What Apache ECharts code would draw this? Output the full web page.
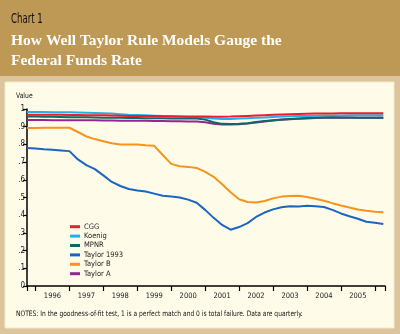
<!DOCTYPE html>
<html><head><meta charset="utf-8">
<script src="https://cdn.jsdelivr.net/npm/echarts@6/dist/echarts.min.js"></script>
<style>html,body{margin:0;padding:0;background:#dcc49c}#c{width:400px;height:334px}</style>
</head><body><div id="c"></div>
<script>
// Quarterly dates from 1995 Q4 (as year fractions)
const quarterStart = 1995.75;
const yearTicks = [1995.75,1996,1997,1998,1999,2000,2001,2002,2003,2004,2005,2006,2006.3];
const yearLabels = [1996,1997,1998,1999,2000,2001,2002,2003,2004,2005];
const yTickLabels = ['0','.1','.2','.3','.4','.5','.6','.7','.8','.9','1'];
const seriesNames = ['CGG','Koenig','MPNR','Taylor 1993','Taylor B','Taylor A'];

const cgg = [0.968,0.968,0.968,0.967,0.967,0.966,0.966,0.965,0.965,0.964,0.963,0.962,0.961,
  0.960,0.960,0.960,0.959,0.959,0.958,0.958,0.957,0.957,0.956,0.956,0.957,0.959,0.961,0.963,0.965,
  0.967,0.969,0.971,0.972,0.973,0.974,0.975,0.975,0.976,0.976,0.976,0.976,0.976,0.976];
const koenig = [0.983,0.983,0.983,0.982,0.982,0.981,0.980,0.979,0.978,0.976,0.974,0.971,0.968,
  0.966,0.964,0.962,0.960,0.958,0.957,0.955,0.953,0.950,0.946,0.944,0.944,0.946,0.948,0.950,0.952,
  0.955,0.957,0.959,0.960,0.961,0.962,0.963,0.963,0.963,0.964,0.964,0.964,0.964,0.964];
const mpnr = [0.957,0.957,0.956,0.956,0.955,0.954,0.953,0.953,0.952,0.951,0.950,0.950,0.949,
  0.949,0.948,0.948,0.948,0.947,0.947,0.947,0.946,0.940,0.925,0.916,0.915,0.916,0.920,0.926,0.932,
  0.937,0.941,0.944,0.947,0.949,0.951,0.952,0.953,0.952,0.952,0.951,0.951,0.951,0.951];
const taylor1993 = [0.780,0.777,0.773,0.770,0.766,0.762,0.715,0.683,0.660,0.625,0.588,0.565,0.548,
  0.540,0.534,0.522,0.510,0.505,0.500,0.488,0.470,0.430,0.385,0.345,0.318,0.333,0.355,0.390,0.415,
  0.433,0.445,0.451,0.449,0.454,0.450,0.446,0.430,0.410,0.394,0.380,0.363,0.357,0.350];
const taylorB = [0.893,0.893,0.894,0.894,0.894,0.894,0.870,0.845,0.830,0.818,0.806,0.800,0.800,
  0.800,0.795,0.792,0.740,0.690,0.677,0.673,0.667,0.645,0.617,0.575,0.530,0.490,0.475,0.472,0.480,
  0.495,0.505,0.508,0.510,0.503,0.493,0.482,0.468,0.455,0.444,0.432,0.425,0.420,0.416];
const taylorA = [0.938,0.938,0.938,0.937,0.937,0.937,0.936,0.936,0.936,0.935,0.935,0.934,0.934,
  0.933,0.933,0.932,0.932,0.931,0.931,0.930,0.929,0.925,0.917,0.913,0.913,0.914,0.918,0.924,0.930,
  0.935,0.939,0.942,0.945,0.947,0.949,0.950,0.950,0.950,0.950,0.950,0.950,0.950,0.950];

const colors = ['#ec1c2e','#26aee6','#0b6a66','#1b65c2','#f7931e','#93278f'];
const zs = [6,3,5,4,4,2];
const allData = [cgg,koenig,mpnr,taylor1993,taylorB,taylorA];

function pairs(arr){ return arr.map((v,i)=>[quarterStart + i*0.25, v]); }

const chart = echarts.init(document.getElementById('c'));
const narrow = '"Liberation Sans Narrow","Arial Narrow","DejaVu Sans Condensed",sans-serif';
chart.setOption({
  animation:false,
  backgroundColor:'#dcc49c',
  graphic:[
    {type:'rect',shape:{x:0,y:0,width:400,height:76},style:{fill:'#bd9955'},z:-10},
    {type:'rect',shape:{x:5,y:82,width:389,height:246},style:{fill:'#fffbe9',stroke:'#f3ead2',lineWidth:1},z:-10},
    {type:'text',x:11,y:12,scaleX:0.68,style:{text:'Chart 1',fill:'#111',font:'14px '+narrow}},
    {type:'text',x:11,y:31,style:{text:'How Well Taylor Rule Models Gauge the\nFederal Funds Rate',fill:'#fff',
      font:'bold 15.5px "Liberation Serif",serif',lineHeight:20}},
    {type:'text',x:16,y:92,scaleX:0.9,style:{text:'Value',fill:'#111',font:'7.5px '+narrow}},
    {type:'text',x:16,y:310,scaleX:0.885,style:{text:'NOTES: In the goodness-of-fit test, 1 is a perfect match and 0 is total failure. Data are quarterly.',
      fill:'#111',font:'7.5px '+narrow}}
  ],
  grid:{left:27,right:15,top:109,bottom:48},
  legend:{
    data:seriesNames, orient:'vertical', left:70, top:222, padding:0,
    icon:'rect', itemWidth:10, itemHeight:3, itemGap:0,
    textStyle:{fontSize:7.5, fontFamily:narrow, color:'#222', lineHeight:9.4, padding:[0,0,0,-1]}
  },
  xAxis:{
    type:'value', min:1995.75, max:2006.3,
    axisLine:{show:true,onZero:false,lineStyle:{color:'#000',width:1.5}},
    axisTick:{show:true,customValues:yearTicks,length:5,inside:false,lineStyle:{color:'#000',width:1.2}},
    axisLabel:{customValues:yearLabels.map(y=>y+0.5),formatter:v=>String(Math.floor(v)),
      fontSize:7.5,fontFamily:narrow,color:'#222',margin:6},
    splitLine:{show:false}
  },
  yAxis:{
    type:'value', min:0, max:1, interval:0.1,
    axisLine:{show:true,lineStyle:{color:'#000',width:1.5}},
    axisTick:{show:true,length:4,lineStyle:{color:'#000',width:1.2}},
    axisLabel:{formatter:(v)=>yTickLabels[Math.round(v*10)],fontSize:8,fontFamily:narrow,color:'#222',margin:2},
    splitLine:{show:false}
  },
  series: seriesNames.map((n,i)=>({
    name:n, type:'line', data:pairs(allData[i]), showSymbol:false, symbol:'none',
    lineStyle:{color:colors[i], width:2}, itemStyle:{color:colors[i]}, z:zs[i]
  }))
});
</script></body></html>
